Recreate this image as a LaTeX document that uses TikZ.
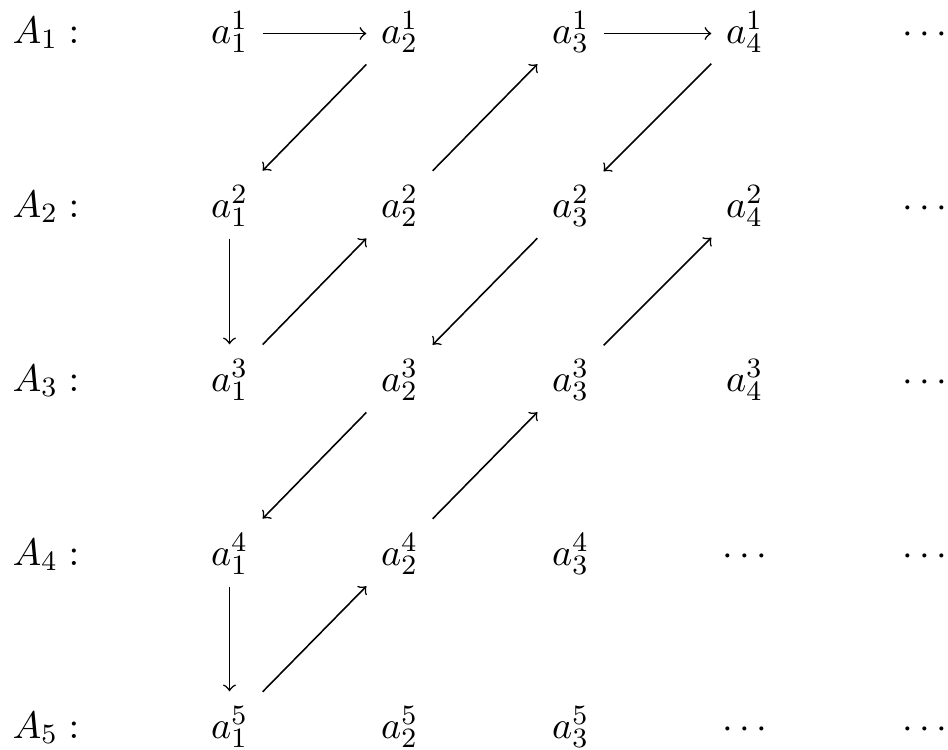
\documentclass[tikz,border=0pt,11pt]{standalone}
\begin{document}
\begin{tikzpicture}[x=0.2857pt,y=-0.2857pt,
  cell/.style={inner xsep=4.0pt, inner ysep=3pt, text height=10.14pt, text depth=3pt, anchor=base},
  lab/.style={inner sep=0pt, anchor=base west},
  arr/.style={->, line width=0.45pt}]
\useasboundingbox (0,0) rectangle (948,750);
% row labels
\node[lab] (A1) at (12,43)  {$A_1:$};
\node[lab] (A2) at (12,217) {$A_2:$};
\node[lab] (A3) at (12,391) {$A_3:$};
\node[lab] (A4) at (12,565) {$A_4:$};
\node[lab] (A5) at (12,738) {$A_5:$};
% row 1
\node[cell] (a11) at (229.5,43) {$a^{1}_{1}$};
\node[cell] (a12) at (399.5,43) {$a^{1}_{2}$};
\node[cell] (a13) at (570.5,43) {$a^{1}_{3}$};
\node[cell] (a14) at (744.5,43) {$a^{1}_{4}$};
\node[cell] (d1)  at (925,43)   {$\cdots$};
% row 2
\node[cell] (a21) at (229.5,217) {$a^{2}_{1}$};
\node[cell] (a22) at (399.5,217) {$a^{2}_{2}$};
\node[cell] (a23) at (570.5,217) {$a^{2}_{3}$};
\node[cell] (a24) at (744.5,217) {$a^{2}_{4}$};
\node[cell] (d2)  at (925,217)   {$\cdots$};
% row 3
\node[cell] (a31) at (229.5,391) {$a^{3}_{1}$};
\node[cell] (a32) at (399.5,391) {$a^{3}_{2}$};
\node[cell] (a33) at (570.5,391) {$a^{3}_{3}$};
\node[cell] (a34) at (744.5,391) {$a^{3}_{4}$};
\node[cell] (d3)  at (925,391)   {$\cdots$};
% row 4
\node[cell] (a41) at (229.5,565) {$a^{4}_{1}$};
\node[cell] (a42) at (399.5,565) {$a^{4}_{2}$};
\node[cell] (a43) at (570.5,565) {$a^{4}_{3}$};
\node[cell] (a44) at (744.5,565) {$\cdots$};
\node[cell] (d4)  at (925,565)   {$\cdots$};
% row 5
\node[cell] (a51) at (229.5,738) {$a^{5}_{1}$};
\node[cell] (a52) at (399.5,738) {$a^{5}_{2}$};
\node[cell] (a53) at (570.5,738) {$a^{5}_{3}$};
\node[cell] (a54) at (744.5,738) {$\cdots$};
\node[cell] (d5)  at (925,738)   {$\cdots$};
% arrows
\draw[arr] ([yshift=-0.85pt]a11.east) -- ([yshift=-0.85pt]a12.west);
\draw[arr] (a12) -- (a21);
\draw[arr] (a21) -- (a31);
\draw[arr] (a31) -- (a22);
\draw[arr] (a22) -- (a13);
\draw[arr] ([yshift=-0.85pt]a13.east) -- ([yshift=-0.85pt]a14.west);
\draw[arr] (a14) -- (a23);
\draw[arr] (a23) -- (a32);
\draw[arr] (a32) -- (a41);
\draw[arr] (a41) -- (a51);
\draw[arr] (a51) -- (a42);
\draw[arr] (a42) -- (a33);
\draw[arr] (a33) -- (a24);
\end{tikzpicture}
\end{document}
